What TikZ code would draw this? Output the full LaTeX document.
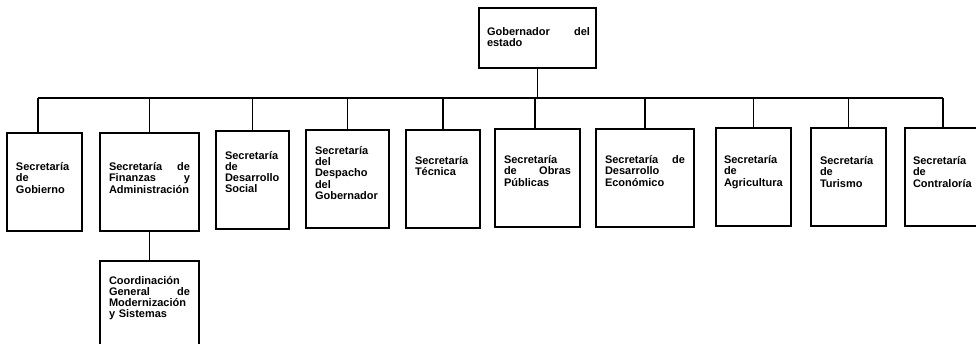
\documentclass[tikz,border=0pt]{standalone}
\usepackage{fontspec}
\setmainfont{Liberation Sans}
\hyphenpenalty=10000
\exhyphenpenalty=10000
\begin{document}
\begin{tikzpicture}[x=1pt,y=-1pt,
  box/.style={draw, line width=1.1pt, inner sep=0pt},
  unit/.style={box, minimum height=98pt},
  lbl/.style={font=\bfseries\fontsize{11}{11.2}\selectfont, align=left, inner sep=0pt},
  link/.style={line width=1.1pt}]
\useasboundingbox (0,0) rectangle (976,344);
\clip (0,0) rectangle (976,344);

% governor
\node[box, minimum width=117pt, minimum height=60pt] (gov) at (537.5,38) {};
\node[lbl, text width=103pt] (govt) at (538.5,37) {Gobernador\hfill del\\estado};

% secretariats
\node[unit, minimum width=75pt] (b1) at (44.5,182) {};
\node[lbl, text width=57pt] (t1) at (44.5,178) {Secretaría\\de\\Gobierno};

\node[unit, minimum width=99pt] (b2) at (149.5,182) {};
\node[lbl, text width=81pt] (t2) at (149.5,178) {Secretaría\hfill de\\Finanzas\hfill y\\Administración};

\node[unit, minimum width=73pt] (b3) at (252.5,180) {};
\node[lbl, text width=55pt] (t3) at (252.5,172) {Secretaría\\de\\Desarrollo\\Social};

\node[unit, minimum width=83pt] (b4) at (347.5,179) {};
\node[lbl, text width=65pt] (t4) at (347.5,173) {Secretaría\\del\\Despacho\\del\\Gobernador};

\node[unit, minimum width=74pt] (b5) at (443,179) {};
\node[lbl, text width=56pt] (t5) at (443,166) {Secretaría\\Técnica};

\node[unit, minimum width=85pt] (b6) at (537.5,178) {};
\node[lbl, text width=67pt] (t6) at (537.5,171) {Secretaría\\de\hfill Obras\\Públicas};

\node[unit, minimum width=98pt] (b7) at (645,178) {};
\node[lbl, text width=80pt] (t7) at (645,171) {Secretaría\hfill de\\Desarrollo\\Económico};

\node[unit, minimum width=75pt] (b8) at (753.5,177) {};
\node[lbl, text width=59pt] (t8) at (753.5,172) {Secretaría\\de\\Agricultura};

\node[unit, minimum width=75pt] (b9) at (848.5,177) {};
\node[lbl, text width=57pt] (t9) at (848.5,172) {Secretaría\\de\\Turismo};

\node[unit, minimum width=76pt] (b10) at (943,177) {};
\node[lbl, text width=60pt] (t10) at (943,172) {Secretaría\\de\\Contraloría};

% coordination under finance
\node[box, minimum width=99pt, minimum height=95pt] (sub) at (149.5,308.5) {};
\node[lbl, text width=81pt] (subt) at (149.5,298) {Coordinación\\General\hfill de\\Modernización\\y Sistemas};

% connectors
\coordinate (busL) at (38,98);
\coordinate (busR) at (943,98);
\draw[link] (busL) -- (busR);
\draw[link] (gov.south) -- (gov.south |- busL);
\draw[link] (busL) -- (busL |- b1.north);
\foreach \n in {b2,b3,b4,b5,b7,b8,b9,b10}
  \draw[link] (\n.north |- busL) -- (\n.north);
\draw[link] ([xshift=-2.5pt]b6.north |- busL) -- ([xshift=-2.5pt]b6.north);
\draw[link] (b2.south) -- (sub.north);
\end{tikzpicture}
\end{document}
